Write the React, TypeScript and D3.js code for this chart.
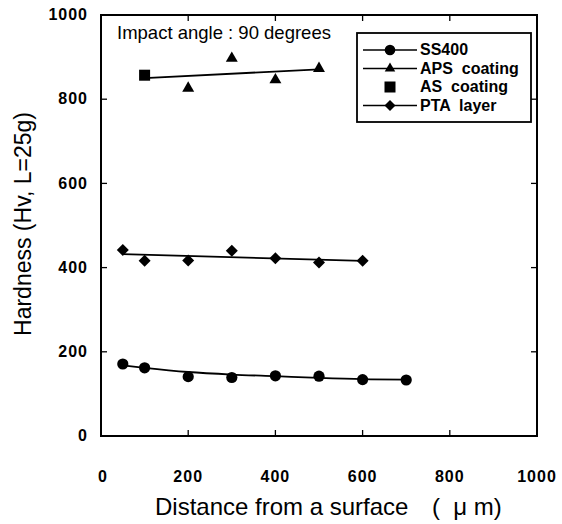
import React from "react";
import * as d3 from "d3";

const xTicks = [0, 200, 400, 600, 800, 1000];
const yTicks = [0, 200, 400, 600, 800, 1000];

const ssX = [50, 100, 200, 300, 400, 500, 600, 700];
const ssY = [171, 162, 141, 139, 143, 142, 134, 133];
const ssFitY = [168, 162, 152, 146, 142, 138, 135, 134];

const apsX = [200, 300, 400, 500];
const apsY = [826, 897, 846, 873];
const apsFitX = [100, 500];
const apsFitY = [850, 871];

const asX = [100];
const asY = [857];

const ptaX = [50, 100, 200, 300, 400, 500, 600];
const ptaY = [442, 416, 417, 440, 422, 412, 416];
const ptaFitX = [50, 600];
const ptaFitY = [432, 416];

const legendLabels = ["SS400", "APS  coating", "AS  coating", "PTA  layer"];
const annotation = "Impact angle : 90 degrees";
const yTitle = "Hardness (Hv, L=25g)";
const xTitle = "Distance from a surface";
const xUnit = "(  \u03bc m)";

const FONT = "'Liberation Sans', Arial, Helvetica, sans-serif";

export default function App() {
  const W = 562, H = 524;
  const left = 101, right = 537, top = 15, bottom = 436;
  const x = d3.scaleLinear().domain([0, 1000]).range([left, right]);
  const y = d3.scaleLinear().domain([0, 1000]).range([bottom, top]);
  const line = d3.line<[number, number]>().x(d => x(d[0])).y(d => y(d[1]));
  const curve = d3.line<[number, number]>().x(d => x(d[0])).y(d => y(d[1])).curve(d3.curveMonotoneX);
  const zip = (a: number[], b: number[]) => a.map((v, i) => [v, b[i]] as [number, number]);

  const tri = d3.symbol(d3.symbolTriangle, 62)()!;
  const dia = (cx: number, cy: number, r = 6) => `M${cx},${cy - r}L${cx + r},${cy}L${cx},${cy + r}L${cx - r},${cy}Z`;
  const tl = 6;

  const lgX = 357, lgY = 33, lgW = 174, lgH = 89;
  const rowY = [50, 68.5, 87, 105.5];

  return (
    <svg width={W} height={H} style={{ position: "absolute", left: 0, top: 0, background: "#fff" }} fontFamily={FONT}>
      <rect x={0} y={0} width={W} height={H} fill="#fff" />
      {/* ticks */}
      {xTicks.map(t => (
        <g key={"xt" + t}>
          <line x1={x(t)} x2={x(t)} y1={bottom} y2={bottom - tl} stroke="#000" strokeWidth={1.3} />
          <line x1={x(t)} x2={x(t)} y1={top} y2={top + tl} stroke="#000" strokeWidth={1.3} />
          <text x={x(t) + (t === 0 ? 2 : 0)} y={478} textAnchor="middle" dominantBaseline="middle" fontSize={16} letterSpacing={1} fontWeight="bold">{t}</text>
        </g>
      ))}
      {yTicks.map(t => (
        <g key={"yt" + t}>
          <line x1={left} x2={left + tl} y1={y(t)} y2={y(t)} stroke="#000" strokeWidth={1.3} />
          <line x1={right} x2={right - tl} y1={y(t)} y2={y(t)} stroke="#000" strokeWidth={1.3} />
          <text x={88} y={y(t) + 1} textAnchor="end" dominantBaseline="middle" fontSize={16} letterSpacing={1} fontWeight="bold">{t}</text>
        </g>
      ))}
      <rect x={left} y={top} width={right - left} height={bottom - top} fill="none" stroke="#000" strokeWidth={2} />

      {/* fit lines */}
      <path d={curve(zip(ssX, ssFitY))!} fill="none" stroke="#000" strokeWidth={1.8} />
      <path d={line(zip(apsFitX, apsFitY))!} fill="none" stroke="#000" strokeWidth={1.8} />
      <path d={line(zip(ptaFitX, ptaFitY))!} fill="none" stroke="#000" strokeWidth={1.8} />

      {/* markers */}
      {ssX.map((v, i) => <circle key={"s" + i} cx={x(v)} cy={y(ssY[i])} r={5.6} fill="#000" />)}
      {apsX.map((v, i) => <path key={"a" + i} d={tri} transform={`translate(${x(v)},${y(apsY[i])})`} fill="#000" />)}
      {asX.map((v, i) => <rect key={"q" + i} x={x(v) - 5.5} y={y(asY[i]) - 5.5} width={11} height={11} fill="#000" />)}
      {ptaX.map((v, i) => <path key={"p" + i} d={dia(x(v), y(ptaY[i]))} fill="#000" />)}

      {/* annotation */}
      <text x={117} y={34} dominantBaseline="middle" fontSize={18.5}>{annotation}</text>

      {/* legend */}
      <rect x={lgX} y={lgY} width={lgW} height={lgH} fill="#fff" stroke="#000" strokeWidth={1.8} />
      {legendLabels.map((lab, i) => {
        const cy = rowY[i];
        const mx = 390;
        return (
          <g key={"lg" + i}>
            {i !== 2 && <line x1={363} x2={417} y1={cy} y2={cy} stroke="#000" strokeWidth={1.6} />}
            {i === 0 && <circle cx={mx} cy={cy} r={5.3} fill="#000" />}
            {i === 1 && <path d={d3.symbol(d3.symbolTriangle, 48)()!} transform={`translate(${mx},${cy})`} fill="#000" />}
            {i === 2 && <rect x={mx - 5.5} y={cy - 5.5} width={11} height={11} fill="#000" />}
            {i === 3 && <path d={dia(mx, cy, 5.5)} fill="#000" />}
            <text x={420} y={cy + 1} dominantBaseline="middle" fontSize={16} fontWeight="bold" style={{ whiteSpace: "pre" }}>{lab}</text>
          </g>
        );
      })}

      {/* axis titles */}
      <text transform={`translate(25,224) rotate(-90)`} textAnchor="middle" dominantBaseline="middle" fontSize={23}>{yTitle}</text>
      <text x={155} y={509} dominantBaseline="middle" fontSize={24}>{xTitle}</text>
      <text x={432} y={509} dominantBaseline="middle" fontSize={24} style={{ whiteSpace: "pre" }}>{xUnit}</text>
    </svg>
  );
}
